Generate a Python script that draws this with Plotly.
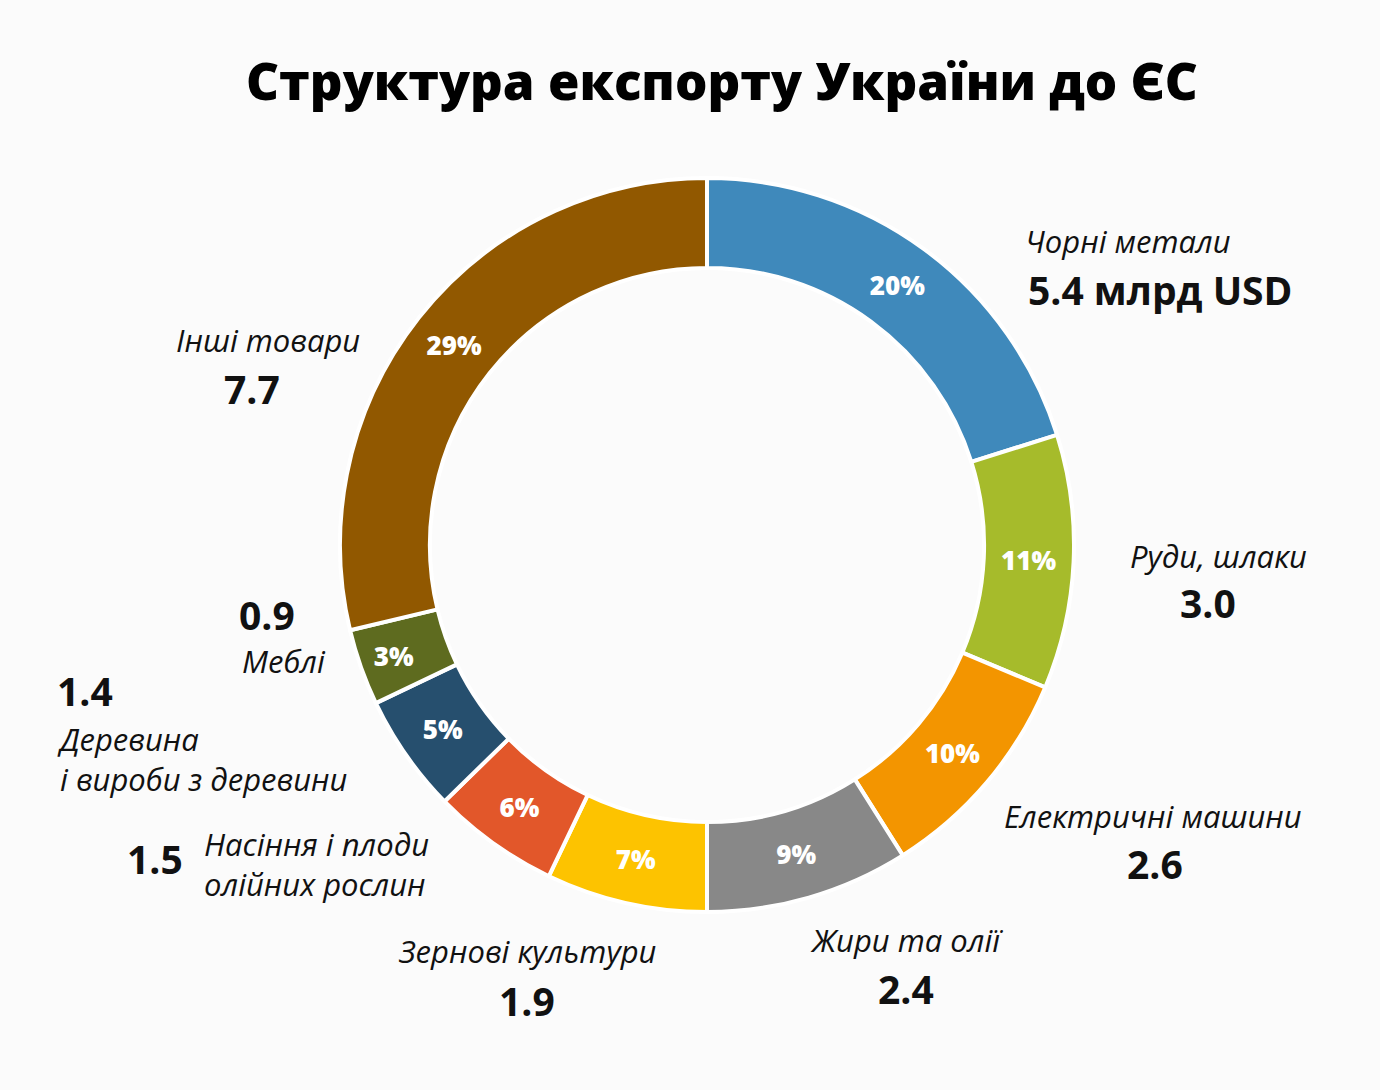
import plotly.graph_objects as go

categories = ["Чорні метали", "Руди, шлаки", "Електричні машини", "Жири та олії",
              "Зернові культури", "Насіння і плоди олійних рослин",
              "Деревина і вироби з деревини", "Меблі", "Інші товари"]
values = [5.4, 3.0, 2.6, 2.4, 1.9, 1.5, 1.4, 0.9, 7.7]
value_labels = ["5.4 млрд USD", "3.0", "2.6", "2.4", "1.9", "1.5", "1.4", "0.9", "7.7"]
colors = ["#3f89bb", "#a6bb2b", "#f39500", "#888888", "#fdc300",
          "#e2572a", "#264f6e", "#5e6b1f", "#915800"]

W, H = 1380, 1090
CX, CY, R = 707, 545, 367
FONT = "Open Sans, Noto Sans, DejaVu Sans, sans-serif"

fig = go.Figure(go.Pie(
    labels=categories, values=values, sort=False, direction="clockwise", rotation=0,
    hole=0.755,
    marker=dict(colors=colors, line=dict(color="white", width=4)),
    texttemplate="%{percent:.0%}", textposition="inside",
    insidetextorientation="horizontal",
    textfont=dict(family=FONT, size=26, color="white", weight=800),
    domain=dict(x=[(CX - R) / W, (CX + R) / W], y=[(H - CY - R) / H, (H - CY + R) / H]),
    showlegend=False, hoverinfo="label+value+percent",
))

def P(x, y):
    return x / W, 1 - y / H

anns = []
def add(text, x, y, bold=False, size=30, anchor="center"):
    ax, ay = P(x, y)
    anns.append(dict(text=text, x=ax, y=ay, xref="paper", yref="paper", showarrow=False,
                     xanchor=anchor, yanchor="middle", align=anchor if anchor != "center" else "center",
                     font=dict(family=FONT, size=size, color="#111111",
                               weight=700 if bold else 400,
                               style="normal" if bold else "italic")))

NUM = 39
LAB = 31
add(categories[0], 1128, 241, size=LAB)
add(value_labels[0], 1160, 289, bold=True, size=NUM)
add(categories[1], 1218, 556, size=LAB)
add(value_labels[1], 1208, 603, bold=True, size=NUM)
add(categories[2], 1153, 816, size=LAB)
add(value_labels[2], 1155, 863, bold=True, size=NUM)
add(categories[3], 906, 940, size=LAB)
add(value_labels[3], 906, 988, bold=True, size=NUM)
add(categories[4], 527, 951, size=LAB)
add(value_labels[4], 527, 1000, bold=True, size=NUM)
add(value_labels[5], 155, 858, bold=True, size=NUM)
add("Насіння і плоди<br>олійних рослин", 202, 864, size=LAB, anchor="left")
add(value_labels[6], 55, 690, bold=True, size=NUM, anchor="left")
add("Деревина<br>і вироби з деревини", 55, 759, size=LAB, anchor="left")
add(value_labels[7], 267, 614, bold=True, size=NUM)
add(categories[7], 284, 661, size=LAB)
add(categories[8], 268, 340, size=LAB)
add(value_labels[8], 252, 388, bold=True, size=NUM)

tx, ty = P(722, 80)
anns.append(dict(text="Структура експорту України до ЄС", x=tx, y=ty, xref="paper", yref="paper",
                 showarrow=False, xanchor="center", yanchor="middle",
                 font=dict(family=FONT, size=51, color="#000000", weight=800)))

fig.update_layout(width=W, height=H, margin=dict(l=0, r=0, t=0, b=0),
                  paper_bgcolor="#fbfbfb", plot_bgcolor="#fbfbfb", annotations=anns)
fig.write_html("out.html", config={"displayModeBar": False},
               post_script="document.body.style.margin='0';")
